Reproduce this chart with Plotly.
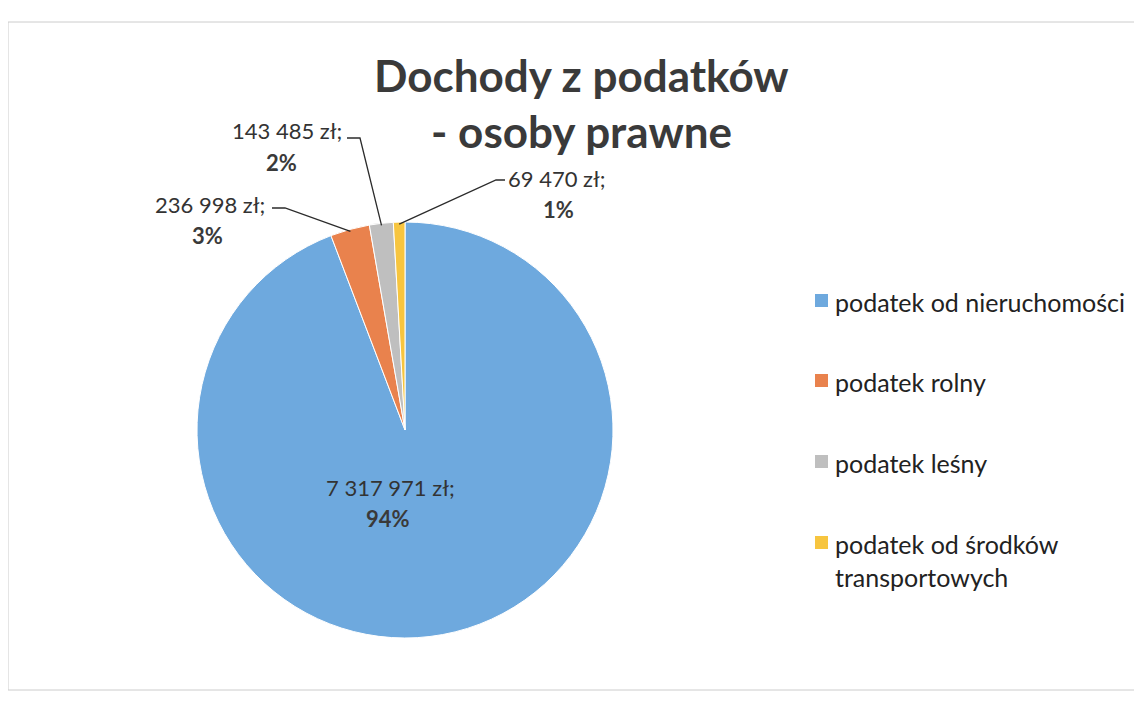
import math
import plotly.graph_objects as go

labels = ["podatek od nieruchomości", "podatek rolny", "podatek leśny",
          "podatek od środków transportowych"]
values = [7317971, 236998, 143485, 69470]
colors = ["#6ea9de", "#e9824d", "#bfbfbf", "#f7c53f"]
legend_text = ["podatek od nieruchomości", "podatek rolny", "podatek leśny",
               "podatek od środków<br>transportowych"]
title_lines = ["Dochody z podatków", "- osoby prawne"]

W, H = 1142, 704
OFF = 8                      # page body margin shifts the figure
cx, cy, R = 405, 430, 208    # pie centre/radius in screen pixels


def px(x):
    return (x - OFF) / W


def py(y):
    return 1 - (y - OFF) / H


total = sum(values)
fracs = [v / total for v in values]


def fmt(v):
    return f"{v:,}".replace(",", " ")


fig = go.Figure()
fig.add_trace(go.Pie(
    labels=labels, values=values, sort=False, direction="clockwise", rotation=0,
    marker=dict(colors=colors, line=dict(color="white", width=1)),
    textinfo="none", showlegend=False, hoverinfo="label+value+percent",
    domain=dict(x=[px(cx - R), px(cx + R)], y=[py(cy + R), py(cy - R)]),
))

FONT = "Lato, Carlito, Arial"
shapes, annotations = [], []

# data label layout: (x of value line, y of value line, x of %, y of %), leader line
label_pos = {
    0: dict(text=(390, 487, 388, 518), line=None),
    1: dict(text=(210, 205, 207, 235), line=[(272, 208), (285, 208)]),
    2: dict(text=(287, 131, 281, 162), line=[(347, 138), (360, 138)]),
    3: dict(text=(557, 178, 558, 210), line=[(505, 180), (496, 180)]),
}

cum = 0
for i, (v, f) in enumerate(zip(values, fracs)):
    mid = 2 * math.pi * (cum + f / 2)
    cum += f
    pos = label_pos[i]
    vx, vy, qx, qy = pos["text"]
    annotations.append(dict(
        x=px(vx), y=py(vy), xref="paper", yref="paper", showarrow=False,
        text=f"{fmt(v)} zł;", font=dict(size=22, family=FONT, color="#333333"),
        xanchor="center", yanchor="middle"))
    annotations.append(dict(
        x=px(qx), y=py(qy), xref="paper", yref="paper", showarrow=False,
        text=f"<b>{f:.0%}</b>", font=dict(size=22, family=FONT, color="#3a3a3a"),
        xanchor="center", yanchor="middle"))
    if pos["line"]:
        tipx = cx + (R - 2) * math.sin(mid)
        tipy = cy - (R - 2) * math.cos(mid)
        (ax, ay), (bx, by) = pos["line"]
        shapes.append(dict(
            type="path", xref="paper", yref="paper",
            path=f"M {px(ax)} {py(ay)} L {px(bx)} {py(by)} L {px(tipx)} {py(tipy)}",
            line=dict(color="#2b2b2b", width=1.3)))

# title, one line per annotation
for t, ty in zip(title_lines, [75, 131]):
    annotations.append(dict(
        x=px(581), y=py(ty), xref="paper", yref="paper", showarrow=False,
        text=f"<b>{t}</b>", xanchor="center", yanchor="middle",
        font=dict(size=44, family=FONT, color="#3a3a3a")))

# legend drawn by hand to get the wide spacing
leg_y = [301, 381, 462, 543]
for i, (t, c) in enumerate(zip(legend_text, colors)):
    y0 = leg_y[i]
    shapes.append(dict(type="rect", xref="paper", yref="paper",
                       x0=px(815), x1=px(828), y0=py(y0 + 6), y1=py(y0 - 7),
                       fillcolor=c, line=dict(width=0)))
    annotations.append(dict(
        x=px(833), y=py(y0 - 16), xref="paper", yref="paper", showarrow=False,
        text=t, align="left", xanchor="left", yanchor="top",
        font=dict(size=25, family=FONT, color="#222222")))

# faint frame of the scanned chart area
shapes.append(dict(type="rect", xref="paper", yref="paper",
                   x0=px(8), x1=px(1141), y0=py(690), y1=py(22),
                   line=dict(color="#cccccc", width=1)))

fig.update_layout(
    width=W, height=H,
    margin=dict(l=0, r=0, t=0, b=0),
    paper_bgcolor="white", plot_bgcolor="white",
    separators=", ",
    shapes=shapes, annotations=annotations,
)

fig.write_html("out.html")
